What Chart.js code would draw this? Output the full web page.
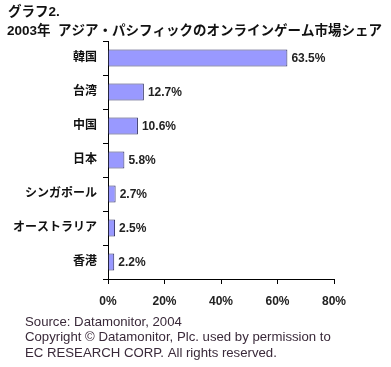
<!DOCTYPE html>
<html><head><meta charset="utf-8">
<script src="https://cdn.jsdelivr.net/npm/chart.js@4/dist/chart.umd.min.js"></script>
<style>html,body{margin:0;padding:0;background:#fff;}#wrap{width:391px;height:367px;position:relative;}</style>
</head><body><div id="wrap"><canvas id="c" width="391" height="367"></canvas></div>
<script>
const categories = ["韓国","台湾","中国","日本","シンガポール","オーストラリア","香港"];
const shares = [63.5, 12.7, 10.6, 5.8, 2.7, 2.5, 2.2];
const xTicks = [0, 20, 40, 60, 80];
const titleLine1 = "グラフ2.";
const titleLine2 = "2003年  アジア・パシフィックのオンラインゲーム市場シェア";
const sourceLines = ["Source: Datamonitor, 2004","Copyright © Datamonitor, Plc. used by permission to","EC RESEARCH CORP. All rights reserved."];

const FONT = "'Liberation Sans', Arial, 'Noto Sans CJK JP', sans-serif";

const textPlugin = {
  id: 'texts',
  afterDraw(chart) {
    const ctx = chart.ctx;
    ctx.save();
    ctx.fillStyle = '#111';
    ctx.textBaseline = 'middle';
    ctx.textAlign = 'left';
    ctx.font = 'bold 13.5px ' + FONT;
    ctx.fillText(titleLine1, 8, 12);
    ctx.font = 'bold 13.5px ' + FONT;
    ctx.fillText(titleLine2, 7, 31, 378);
    // data labels
    const meta = chart.getDatasetMeta(0);
    ctx.font = 'bold 12px ' + FONT;
    ctx.fillStyle = '#222';
    meta.data.forEach((bar, i) => {
      ctx.fillText(shares[i].toFixed(1) + '%', bar.x + 4, bar.y + 1);
    });
    // source
    ctx.font = '13.2px ' + FONT;
    ctx.fillStyle = '#3a2a3a';
    sourceLines.forEach((s, i) => ctx.fillText(s, 25, 322 + i * 15.5));
    ctx.restore();
  }
};

new Chart(document.getElementById('c'), {
  type: 'bar',
  data: {
    labels: categories,
    datasets: [{
      data: shares,
      backgroundColor: '#9999ff',
      borderColor: '#333366',
      borderWidth: 1,
      barPercentage: 0.5,
      categoryPercentage: 1.0
    }]
  },
  options: {
    indexAxis: 'y',
    responsive: false,
    animation: false,
    devicePixelRatio: 1,
    layout: { padding: { top: 41, right: 57, bottom: 58, left: 0 } },
    plugins: { legend: { display: false }, tooltip: { enabled: false } },
    scales: {
      x: {
        min: 0, max: 80,
        afterBuildTicks(scale) { scale.ticks = xTicks.map(v => ({ value: v })); },
        afterFit(scale) { scale.height = 30; },
        border: { color: '#000', width: 1 },
        grid: { drawOnChartArea: false, tickLength: 5, color: '#000' },
        ticks: {
          callback: v => v + '%',
          font: { family: FONT, size: 12, weight: 'bold' },
          color: '#222',
          padding: 10,
          maxRotation: 0
        }
      },
      y: {
        afterFit(scale) { scale.width = 108; },
        border: { color: '#000', width: 1 },
        grid: { drawOnChartArea: false, tickLength: 5, color: '#000', offset: true },
        ticks: {
          font: { family: FONT, size: 12, weight: 'bold' },
          color: '#111',
          padding: 6
        }
      }
    }
  },
  plugins: [textPlugin]
});
</script></body></html>
